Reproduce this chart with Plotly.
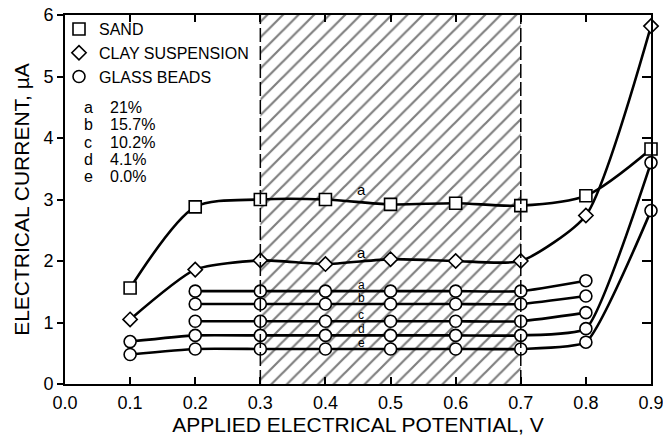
import plotly.graph_objects as go

# Applied potential (V) at which current was measured
volts = [0.1, 0.2, 0.3, 0.4, 0.5, 0.6, 0.7, 0.8, 0.9]

# Electrical current (µA) for each medium
sand = [1.56, 2.88, 3.00, 3.00, 2.92, 2.94, 2.90, 3.06, 3.82]
clay = [1.05, 1.86, 2.01, 1.95, 2.03, 2.00, 2.00, 2.74, 5.82]

# Glass beads at five water contents (curves a-e)
glass_a = [None, 1.51, 1.51, 1.51, 1.51, 1.51, 1.51, 1.68, None]
glass_b = [None, 1.30, 1.30, 1.30, 1.30, 1.30, 1.30, 1.43, None]
glass_c = [None, 1.02, 1.02, 1.02, 1.02, 1.02, 1.02, 1.16, None]
glass_d = [0.69, 0.79, 0.79, 0.79, 0.79, 0.79, 0.79, 0.90, 3.60]
glass_e = [0.48, 0.57, 0.57, 0.57, 0.57, 0.57, 0.57, 0.68, 2.82]

curve_letters = ["a", "b", "c", "d", "e"]
curve_contents = ["21%", "15.7%", "10.2%", "4.1%", "0.0%"]

# Linear (ohmic) working range, shown hatched
band_lo, band_hi = 0.3, 0.7

x_ticks = [0.0, 0.1, 0.2, 0.3, 0.4, 0.5, 0.6, 0.7, 0.8, 0.9]
y_ticks = [0, 1, 2, 3, 4, 5, 6]

FONT = "Liberation Sans, Arial, Helvetica, sans-serif"
LINE_W = 2.6

fig = go.Figure()

# hatched band
fig.add_trace(go.Scatter(
    x=[band_lo, band_hi, band_hi, band_lo, band_lo],
    y=[y_ticks[0], y_ticks[0], y_ticks[-1], y_ticks[-1], y_ticks[0]],
    mode="lines", line=dict(width=0), fill="toself",
    fillcolor="rgba(0,0,0,0)",
    fillpattern=dict(shape="/", fgcolor="black", bgcolor="rgba(0,0,0,0)",
                     size=11, solidity=0.2),
    hoverinfo="skip", showlegend=False))


def add_series(values, symbol, size, smoothing=0.55):
    fig.add_trace(go.Scatter(
        x=volts, y=values, mode="lines+markers",
        line=dict(color="black", width=LINE_W, shape="spline",
                  smoothing=smoothing),
        marker=dict(symbol=symbol, size=size, color="white",
                    line=dict(color="black", width=1.6)),
        showlegend=False, cliponaxis=False))


add_series(sand, "square", 12, 0.8)
add_series(clay, "diamond", 11, 0.6)
for g in [glass_a, glass_b, glass_c, glass_d, glass_e]:
    add_series(g, "circle", 12, 0.45)

# legend entries (symbols only)
for name, symbol, size in [("SAND", "square", 12),
                           ("CLAY SUSPENSION", "diamond", 11),
                           ("GLASS BEADS", "circle", 12)]:
    fig.add_trace(go.Scatter(
        x=[None], y=[None], mode="markers", name=name,
        marker=dict(symbol=symbol, size=size, color="white",
                    line=dict(color="black", width=1.6))))

# right-hand axis carrying inward ticks
fig.add_trace(go.Scatter(x=[None], y=[None], yaxis="y2", showlegend=False))

annotations = []
# curve letters
label_x = 0.455
annotations.append(dict(x=label_x, y=sand[3], text="a", yshift=10,
                        font=dict(family=FONT, size=15, color="black")))
annotations.append(dict(x=label_x, y=clay[3], text="a", yshift=12,
                        font=dict(family=FONT, size=15, color="black")))
for letter, g in zip(curve_letters, [glass_a, glass_b, glass_c, glass_d, glass_e]):
    annotations.append(dict(x=label_x, y=g[3], text=letter, yshift=6,
                            font=dict(family=FONT, size=12, color="black")))
for a in annotations:
    a.update(xref="x", yref="y", showarrow=False)

# content key
plot_h = 444 - 15 - 60
for i, (letter, pct) in enumerate(zip(curve_letters, curve_contents)):
    ypix = 107 + 17.5 * i
    yp = 1 - (ypix - 15) / plot_h
    annotations.append(dict(xref="paper", yref="paper", x=(88 - 65) / 586, y=yp,
                            text=letter, showarrow=False, xanchor="center",
                            yanchor="middle",
                            font=dict(family=FONT, size=16, color="black")))
    annotations.append(dict(xref="paper", yref="paper", x=(108 - 65) / 586, y=yp,
                            text=pct, showarrow=False, xanchor="left",
                            yanchor="middle",
                            font=dict(family=FONT, size=16, color="black")))

shapes = [dict(type="line", xref="x", yref="paper", x0=xv, x1=xv, y0=0, y1=1,
               line=dict(color="black", width=1.5, dash="14px,4px"))
          for xv in (band_lo, band_hi)]

fig.update_layout(
    width=663, height=444, autosize=False,
    margin=dict(l=65, r=12, t=15, b=60),
    paper_bgcolor="white", plot_bgcolor="white",
    font=dict(family=FONT, color="black"),
    showlegend=True,
    legend=dict(x=-6 / 586, y=1.008, xanchor="left", yanchor="top",
                bgcolor="rgba(0,0,0,0)", font=dict(family=FONT, size=16),
                itemwidth=30, tracegroupgap=0),
    xaxis=dict(range=[0, 0.9], tickvals=x_ticks,
               ticktext=[f"{v:.1f}" for v in x_ticks],
               ticks="inside", ticklen=7, tickwidth=1.5, tickcolor="black",
               showline=True, linewidth=2, linecolor="black", mirror="ticks",
               showgrid=False, zeroline=False, ticklabelstandoff=1,
               ticklabeloverflow="allow", automargin=False,
               tickfont=dict(family=FONT, size=18),
               title=dict(text="APPLIED ELECTRICAL POTENTIAL, V",
                          font=dict(family=FONT, size=21), standoff=2)),
    yaxis=dict(range=[0, 6], tickvals=y_ticks,
               ticks="outside", ticklen=6, tickwidth=1.5, tickcolor="black",
               showline=True, linewidth=2, linecolor="black", mirror=True,
               showgrid=False, zeroline=False, automargin=False,
               tickfont=dict(family=FONT, size=18),
               title=dict(text="ELECTRICAL CURRENT, µA",
                          font=dict(family=FONT, size=21), standoff=8)),
    yaxis2=dict(range=[0, 6], tickvals=y_ticks, overlaying="y", side="right",
                ticks="inside", ticklen=9, tickwidth=1.5, tickcolor="black",
                showticklabels=False, showline=False, showgrid=False,
                zeroline=False, automargin=False),
    annotations=annotations,
    shapes=shapes,
)

fig.write_html("out.html")
